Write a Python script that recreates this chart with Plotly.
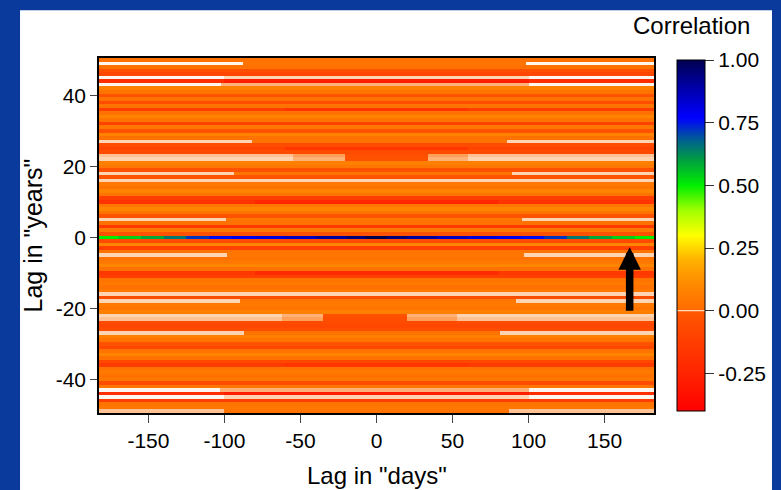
import plotly.graph_objects as go

# ---------------- data ----------------
day_min, day_max = -182.5, 182.5
lag_years = list(range(50, -50, -1))  # top to bottom

# correlation at the centre of each "year" lag row (top -> bottom, lag 50 .. -49)
base_corr = [
    0.02, 0.03, 0.02, -0.04, -0.08, 0.001, -0.20, 0.002, 0.07, 0.03,   # 50..41
    -0.03, 0.02, -0.05, 0.03, -0.12, 0.02, 0.09, 0.03, -0.10, 0.04,    # 40..31
    -0.03, 0.08, 0.02, 0.03, -0.06, -0.10, -0.06, -0.04, -0.03, 0.07,  # 30..21
    0.04, -0.03, 0.03, -0.02, 0.001, 0.05, 0.02, 0.09, 0.03, -0.12,    # 20..11
    -0.18, 0.04, 0.09, 0.03, -0.03, 0.04, 0.02, -0.15, 0.05, -0.03,    # 10..1
    1.00, -0.06, 0.09, -0.10, 0.03, 0.04, 0.02, 0.05, 0.09, 0.02,      # 0..-9
    -0.15, -0.12, 0.03, 0.05, 0.02, 0.05, 0.001, -0.05, 0.04, 0.05,    # -10..-19
    0.03, 0.07, -0.03, -0.05, -0.06, -0.08, -0.05, 0.03, 0.07, 0.03,   # -20..-29
    -0.03, -0.08, 0.03, 0.09, 0.02, -0.08, -0.14, 0.03, 0.05, 0.02,    # -30..-39
    0.05, -0.05, 0.04, 0.002, -0.20, 0.000, -0.12, 0.03, 0.05, 0.03,   # -40..-49
]

# segments that differ from the row value: (lag, day_from, day_to, corr)
segments = [
    (49, -182.5, -88, 0.0), (49, 98, 182.5, 0.0),
    (45, -182.5, 182.5, 0.0), (45, -100, 100, 0.001),
    (44, -100, 100, -0.27),
    (43, -182.5, -102, 0.0), (43, 100, 182.5, 0.0),
    (36, -60, 60, -0.17),
    (27, -182.5, -82, 0.001), (27, 86, 182.5, 0.001),
    (25, -60, 60, -0.16),
    (23, -182.5, -55, 0.0015), (23, -55, -21, 0.0025), (23, 34, 60, 0.0025), (23, 60, 182.5, 0.0015),
    (22, -182.5, -55, 0.001), (22, -55, -21, 0.002), (22, 34, 60, 0.002), (22, 60, 182.5, 0.001),
    (18, -182.5, -94, 0.001), (18, 89, 182.5, 0.001),
    (10, -80, 80, -0.24),
    (5, -182.5, -99, 0.001), (5, 96, 182.5, 0.001),
    (-5, -182.5, -98, 0.001), (-5, 97, 182.5, 0.001),
    (-10, -80, 80, -0.22),
    (-18, -182.5, -90, 0.001), (-18, 92, 182.5, 0.001),
    (-22, -182.5, -62, 0.001), (-22, -62, -35, 0.002), (-22, 20, 53, 0.002), (-22, 53, 182.5, 0.001),
    (-23, -182.5, -62, 0.0015), (-23, -62, -35, 0.0025), (-23, 20, 53, 0.0025), (-23, 53, 182.5, 0.0015),
    (-27, -182.5, -87, 0.001), (-27, 81, 182.5, 0.001),
    (-36, -60, 60, -0.17),
    (-43, -182.5, -103, 0.0), (-43, 100, 182.5, 0.0),
    (-44, -100, 100, -0.27),
    (-45, -182.5, 182.5, 0.0), (-45, -100, 100, 0.001),
    (-49, -182.5, -100, 0.0015), (-49, 87, 182.5, 0.0015),
]

# lag-0 row: correlation along the "days" lag
lag0_edges = [-182.5, -170, -155, -140, -125, -110, -95, -80, -60, -40, -20, -7,
              7, 20, 40, 60, 80, 95, 110, 125, 140, 155, 170, 182.5]
lag0_corr = [0.50, 0.54, 0.59, 0.65, 0.72, 0.76, 0.79, 0.82, 0.86, 0.90, 0.95, 1.00,
             0.95, 0.90, 0.86, 0.82, 0.79, 0.76, 0.72, 0.65, 0.59, 0.54, 0.50]

x_tick_vals = [-150, -100, -50, 0, 50, 100, 150]
x_tick_text = ["-150", "-100", "-50", "0", "50", "100", "150"]
y_tick_vals = [-40, -20, 0, 20, 40]
y_tick_text = ["-40", "-20", "0", "20", "40"]
cb_tick_vals = [-0.25, 0.0, 0.25, 0.5, 0.75, 1.0]
cb_tick_text = ["-0.25", "0.00", "0.25", "0.50", "0.75", "1.00"]
zmin, zmax = -0.40, 1.00

# ---------------- build the grid ----------------
edge_set = {day_min, day_max}
edge_set.update(lag0_edges)
for (_, a, b, _) in segments:
    edge_set.add(a)
    edge_set.add(b)
x_edges = sorted(edge_set)
centers = [(x_edges[i] + x_edges[i + 1]) / 2 for i in range(len(x_edges) - 1)]

z = []
for lag, base in zip(lag_years, base_corr):
    row = []
    for c in centers:
        v = base
        if lag == 0:
            for j in range(len(lag0_corr)):
                if lag0_edges[j] <= c < lag0_edges[j + 1]:
                    v = lag0_corr[j]
        for (sl, a, b, val) in segments:
            if sl == lag and a <= c < b:
                v = val
        row.append(v)
    z.append(row)


def t(v):
    return (v - zmin) / (zmax - zmin)


colorscale = [
    [t(-0.40), "#ff0000"],
    [t(-0.25), "#ff2400"],
    [t(-0.10), "#ff4200"],
    [t(-0.004), "#ff5800"],
    [t(0.0), "#fff6ee"],
    [t(0.004), "#ff6c00"],
    [t(0.10), "#ff8800"],
    [t(0.20), "#ffb000"],
    [t(0.30), "#ffff00"],
    [t(0.40), "#a0ff00"],
    [t(0.50), "#00ee00"],
    [t(0.60), "#00a040"],
    [t(0.68), "#006090"],
    [t(0.77), "#0000ff"],
    [t(0.88), "#0000b0"],
    [t(1.00), "#000050"],
]

FONT = "Liberation Sans, Arial, sans-serif"

fig = go.Figure()
fig.add_trace(go.Heatmap(
    x=x_edges, y=lag_years, z=z,
    zmin=zmin, zmax=zmax, colorscale=colorscale,
    colorbar=dict(
        x=1.0414, xanchor="left", xref="paper",
        y=0.5, yanchor="middle", len=0.99, lenmode="fraction",
        thickness=28, thicknessmode="pixels",
        outlinecolor="black", outlinewidth=1,
        tickvals=cb_tick_vals, ticktext=cb_tick_text,
        ticks="outside", ticklen=9, tickcolor="#333", tickwidth=1,
        tickfont=dict(family=FONT, size=21, color="black"),
        xpad=0, ypad=0,
    ),
    hoverinfo="skip",
))

fig.update_layout(
    width=781, height=490,
    margin=dict(l=99, r=127, t=58, b=77),
    paper_bgcolor="#0a3a9c",
    plot_bgcolor="white",
    font=dict(family=FONT, color="black"),
    xaxis=dict(
        range=[day_min, day_max], showgrid=False, zeroline=False,
        showline=True, linecolor="black", linewidth=1.5, mirror=True,
        ticks="outside", ticklen=8, tickcolor="#444", tickwidth=1,
        tickvals=x_tick_vals, ticktext=x_tick_text,
        tickfont=dict(size=21, family=FONT, color="black"),
    ),
    yaxis=dict(
        range=[-49.5, 50.5], showgrid=False, zeroline=False,
        showline=True, linecolor="black", linewidth=1.5, mirror=True,
        ticks="outside", ticklen=7, tickcolor="#444", tickwidth=1,
        tickvals=y_tick_vals, ticktext=y_tick_text,
        tickfont=dict(size=21, family=FONT, color="black"),
    ),
    shapes=[dict(
        type="rect", xref="paper", yref="paper", layer="below",
        x0=-0.1423, x1=1.2126, y0=-0.3, y1=1.1343,
        fillcolor="white", line=dict(width=0),
    )],
    annotations=[
        dict(text="Correlation", xref="paper", yref="paper", x=1.0667, y=1.092,
             xanchor="center", yanchor="middle", showarrow=False,
             font=dict(size=24, family=FONT, color="black")),
        dict(text='Lag in "days"', xref="paper", yref="paper", x=0.5, y=-0.177,
             xanchor="center", yanchor="middle", showarrow=False,
             font=dict(size=24, family=FONT, color="black")),
        dict(text='Lag in "years"', xref="paper", yref="paper", x=-0.1207, y=0.5,
             xanchor="center", yanchor="middle", showarrow=False, textangle=-90,
             font=dict(size=25, family=FONT, color="black")),
        dict(text="", x=166.5, y=-2.8, ax=166.5, ay=-21.1, xref="x", yref="y",
             axref="x", ayref="y", showarrow=True, arrowhead=2,
             arrowwidth=7.5, arrowsize=0.6, arrowcolor="black"),
    ],
)

fig.write_html("out.html")
